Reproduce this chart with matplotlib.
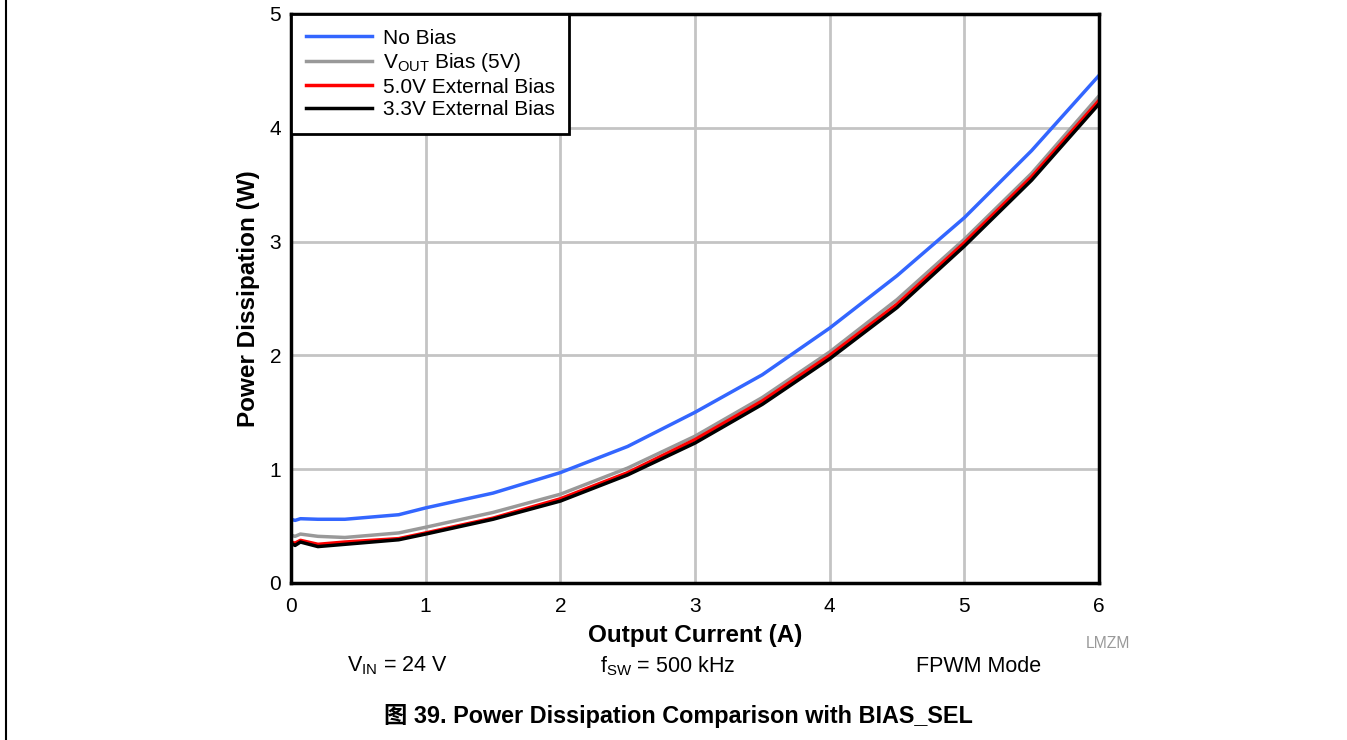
import matplotlib

matplotlib.use("Agg")

import matplotlib.pyplot as plt
from matplotlib.lines import Line2D

plt.rcParams["font.family"] = ["Liberation Sans", "Noto Sans CJK SC", "DejaVu Sans"]

# output current (A)
current = [0, 0.03, 0.07, 0.2, 0.4, 0.8, 1.0, 1.5, 2.0, 2.5, 3.0, 3.5, 4.0, 4.5, 5.0, 5.5, 6.0]

no_bias = [0.56, 0.55, 0.565, 0.56, 0.56, 0.60, 0.66, 0.79, 0.97, 1.20, 1.50, 1.83, 2.24, 2.70, 3.21, 3.80, 4.46]
vout_bias = [0.42, 0.41, 0.43, 0.41, 0.40, 0.44, 0.49, 0.62, 0.78, 1.01, 1.29, 1.63, 2.03, 2.49, 3.02, 3.60, 4.28]
ext_5v = [0.36, 0.35, 0.375, 0.34, 0.36, 0.39, 0.44, 0.57, 0.74, 0.97, 1.26, 1.60, 2.00, 2.45, 2.99, 3.57, 4.24]
ext_3v3 = [0.35, 0.33, 0.36, 0.32, 0.34, 0.38, 0.43, 0.56, 0.72, 0.95, 1.23, 1.57, 1.97, 2.42, 2.96, 3.54, 4.21]

series = [
    ("No Bias", no_bias, "#3366ff"),
    ("V$_{\\mathregular{OUT}}$ Bias (5V)", vout_bias, "#999999"),
    ("5.0V External Bias", ext_5v, "#ff0000"),
    ("3.3V External Bias", ext_3v3, "#000000"),
]

fig = plt.figure(figsize=(13.47, 7.40), dpi=100)
ax = fig.add_axes([291 / 1347, 1 - 583 / 740, 808 / 1347, 569 / 740])

for label, values, color in series:
    ax.plot(current, values, color=color, linewidth=2.5, label=label, solid_joinstyle="round")

ax.set_xlim(0, 6)
ax.set_ylim(0, 5)
ax.set_xticks(range(0, 7))
ax.set_yticks(range(0, 6))
ax.grid(True, color="#c4c4c4", linewidth=2)
ax.set_axisbelow(True)
ax.tick_params(axis="x", length=0, labelsize=15, pad=10)
ax.tick_params(axis="y", length=0, labelsize=15, pad=7)
for spine in ax.spines.values():
    spine.set_linewidth(2.5)
    spine.set_color("black")

ax.set_xlabel("Output Current (A)", fontsize=17.5, fontweight="bold", labelpad=6)
ax.set_ylabel("Power Dissipation (W)", fontsize=17.5, fontweight="bold", labelpad=7)

leg = ax.legend(loc="upper left", fontsize=15, handlelength=3.2, handletextpad=0.5,
                borderaxespad=0, borderpad=0.7, labelspacing=0.17, fancybox=False,
                framealpha=1, edgecolor="black")
leg.get_frame().set_linewidth(2)

fig.text(1108 / 1347, 1 - 643 / 740, "LMZM", fontsize=11.3, color="#999999", ha="center", va="center")
fig.text(397 / 1347, 1 - 666 / 740, "V$_{\\mathregular{IN}}$ = 24 V", fontsize=15.5, ha="center", va="center")
fig.text(668 / 1347, 1 - 666 / 740, "f$_{\\mathregular{SW}}$ = 500 kHz", fontsize=15.5, ha="center", va="center")
fig.text(979 / 1347, 1 - 666 / 740, "FPWM Mode", fontsize=15.5, ha="center", va="center")
fig.text(678 / 1347, 1 - 716 / 740, "图 39. Power Dissipation Comparison with BIAS_SEL",
         fontsize=16.8, fontweight="bold", ha="center", va="center")

fig.add_artist(Line2D([6.5 / 1347, 6.5 / 1347], [0, 1], transform=fig.transFigure,
                      color="black", linewidth=1.5))

fig.savefig("out.png", dpi=100)
plt.close(fig)
